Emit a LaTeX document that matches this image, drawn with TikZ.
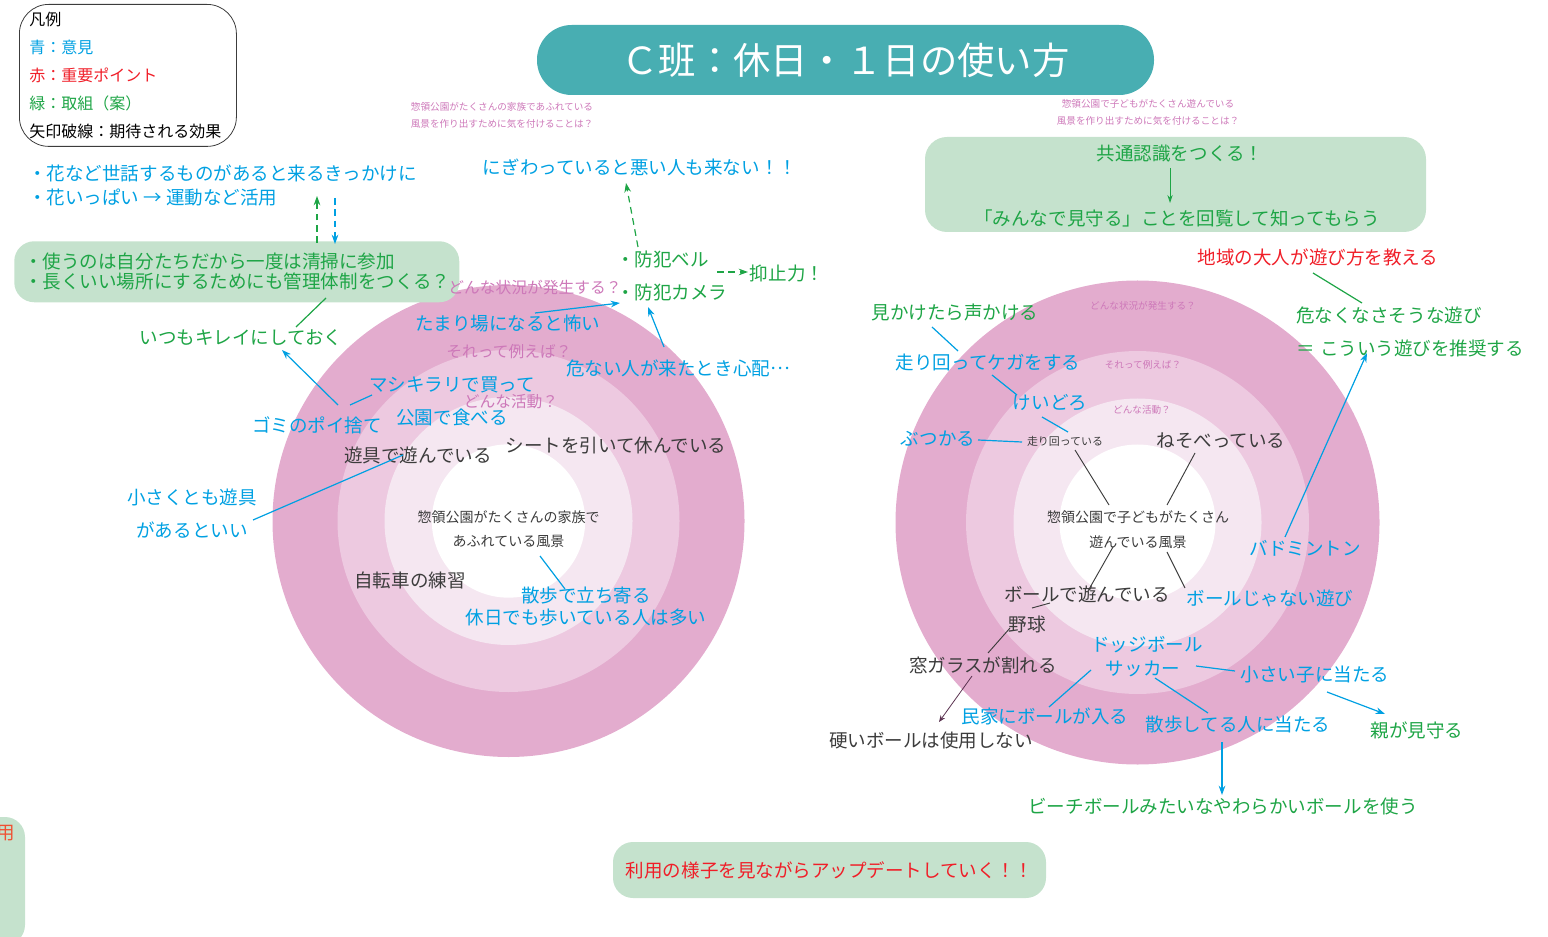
\documentclass[tikz,border=0pt]{standalone}
\usepackage{fontspec}
\setmainfont{Noto Sans CJK JP}
\usetikzlibrary{arrows.meta,calc}

\definecolor{opinion}{RGB}{0,160,226}
\definecolor{action}{RGB}{30,165,70}
\definecolor{point}{RGB}{240,30,40}
\definecolor{ask}{RGB}{205,120,185}
\definecolor{scene}{RGB}{60,60,60}
\definecolor{boxgreen}{RGB}{197,226,205}
\definecolor{titleteal}{RGB}{72,174,178}
\definecolor{ringA}{RGB}{227,172,206}
\definecolor{ringB}{RGB}{237,201,224}
\definecolor{ringC}{RGB}{245,231,241}
\definecolor{edgered}{RGB}{240,80,50}
\definecolor{effectline}{RGB}{90,50,80}

\tikzset{%
  word/.style={inner sep=0pt, font=\fontsize{13.9}{16}\selectfont},
  opinion word/.style={word, text=opinion},
  action word/.style={word, text=action},
  point word/.style={word, text=point},
  scene word/.style={word, text=scene},
  ask word/.style={inner sep=0pt, text=ask, font=\fontsize{11.8}{14}\selectfont},
  ask small/.style={inner sep=0pt, text=ask, font=\fontsize{7.2}{9}\selectfont},
  core/.style={inner sep=0pt, text=scene, align=center},
  greenbox/.style={fill=boxgreen, rounded corners=15pt, inner sep=0pt},
  opline/.style={draw=opinion, line width=0.9pt},
  acline/.style={draw=action, line width=0.9pt},
  scline/.style={draw=scene, line width=0.7pt},
  headed/.style={-{Stealth[length=7pt,width=5pt]}},
  effect/.style={line width=0.9pt, dash pattern=on 5pt off 3.5pt, headed},
}

\begin{document}
\begin{tikzpicture}[x=0.75pt, y=-0.75pt]
\useasboundingbox (0,0) rectangle (1548,937);

\foreach \r/\c in {177pt/ringA,128.25pt/ringB,93pt/ringC,57.5pt/white}
  \fill[\c] (508.5,521) circle[radius=\r];
\foreach \r/\c in {181.5pt/ringA,128.6pt/ringB,93pt/ringC,58.5pt/white}
  \fill[\c] (1137.5,522.5) circle[radius=\r];

\node[draw=scene, line width=0.6pt, rounded corners=22pt, anchor=north west, align=left,
  text width=147.75pt, minimum height=106.5pt, inner xsep=7.5pt, inner ysep=4.5pt,
  text=black, font=\fontsize{12}{21}\selectfont] (legend) at (19,4)
  {凡例\\ \textcolor{opinion}{青：意見}\\ \textcolor{point}{赤：重要ポイント}\\
   \textcolor{action}{緑：取組（案）}\\ 矢印破線：期待される効果};

\node[fill=titleteal, rounded corners=26pt, minimum width=462.75pt, minimum height=52.5pt,
  text=white, font=\fontsize{28}{32}\selectfont] (title) at (845.5,60) {Ｃ班：休日・１日の使い方};

\node[ask small, align=center, font=\fontsize{7.2}{12.75}\selectfont] (leftq) at (502,115.5)
  {惣領公園がたくさんの家族であふれている\\風景を作り出すために気を付けることは？};
\node[ask small, align=center, font=\fontsize{7.2}{12.75}\selectfont] (rightq) at (1148,112.5)
  {惣領公園で子どもがたくさん遊んでいる\\風景を作り出すために気を付けることは？};

\node[greenbox, anchor=north west, text width=318.75pt, minimum height=45.75pt, inner xsep=7.5pt,
  align=left, text=action, font=\fontsize{13.9}{15}\selectfont] (rule) at (14,241)
  {・使うのは自分たちだから一度は清掃に参加\\・長くいい場所にするためにも管理体制をつくる？};
\node[greenbox, rounded corners=16.5pt, minimum width=375.75pt, minimum height=71.25pt] (kyobox) at (1175.5,184.5) {};
\node[greenbox, point word, minimum width=324.75pt, minimum height=42pt] (update) at (829.5,870)
  {利用の様子を見ながらアップデートしていく！！};
\node[greenbox, minimum width=48.75pt, minimum height=96pt] (edgebox) at (-7.5,881) {};
\node[word, text=edgered, anchor=east] (edgeword) at (15,833) {用};

\node[opinion word, anchor=west, align=left, font=\fontsize{13.9}{18}\selectfont] (hana) at (28,185)
  {・花など世話するものがあると来るきっかけに\\・花いっぱい → 運動など活用};
\node[action word] (kirei) at (241,338) {いつもキレイにしておく};
\node[opinion word] (gomi) at (317,425) {ゴミのポイ捨て};
\node[opinion word] (mashi) at (452,385) {マシキラリで買って};
\node[opinion word] (taberu) at (452,417) {公園で食べる};
\node[scene word] (yugu) at (418,455) {遊具で遊んでいる};
\node[scene word] (sheet) at (616,446) {シートを引いて休んでいる};
\node[opinion word, align=center, font=\fontsize{13.9}{24.75}\selectfont] (sasaku) at (192,513.5)
  {小さくとも遊具\\があるといい};
\node[core, font=\fontsize{10.5}{18}\selectfont] (lcore) at (508.5,529)
  {惣領公園がたくさんの家族で\\あふれている風景};
\node[opinion word, align=center, font=\fontsize{13.9}{16.5}\selectfont] (sanpo) at (586,607)
  {散歩で立ち寄る\\休日でも歩いている人は多い};
\node[scene word] (jitensha) at (410,580) {自転車の練習};
\node[opinion word] (tamari) at (508,323) {たまり場になると怖い};
\node[ask word] (lwhat) at (535,288) {どんな状況が発生する？};
\node[ask word] (lex) at (509,352) {それって例えば？};
\node[ask word] (lact) at (511,402) {どんな活動？};
\node[opinion word] (abunai) at (678,368) {危ない人が来たとき心配\raisebox{0.32em}{…}};
\node[action word, anchor=west, align=left, font=\fontsize{13.9}{24.75}\selectfont] (bouhan) at (616,275.5)
  {・防犯ベル\\・防犯カメラ};
\node[opinion word] (nigiwai) at (640,167) {にぎわっていると悪い人も来ない！！};
\node[action word] (yokushi) at (787,273) {抑止力！};

\node[action word] (kyo1) at (1180,154) {共通認識をつくる！};
\node[action word] (kyo2) at (1177,218) {「みんなで見守る」ことを回覧して知ってもらう};
\node[point word] (chiiki) at (1318,257) {地域の大人が遊び方を教える};
\node[action word, anchor=west, align=left, font=\fontsize{13.9}{24.75}\selectfont] (safeplay) at (1296,331.5)
  {危なくなさそうな遊び\\＝\hspace{4pt}こういう遊びを推奨する};
\node[action word] (mikake) at (955,312) {見かけたら声かける};
\node[opinion word] (hashiri) at (988,362) {走り回ってケガをする};
\node[opinion word] (keidoro) at (1050,403) {けいどろ};
\node[opinion word] (butsu) at (938,439) {ぶつかる};
\node[scene word, font=\fontsize{8.2}{10}\selectfont] (hashitte) at (1065,441) {走り回っている};
\node[scene word] (nesobe) at (1221,441) {ねそべっている};
\node[ask small] (rwhat) at (1143,306) {どんな状況が発生する？};
\node[ask small] (rex) at (1143,365) {それって例えば？};
\node[ask small] (ract) at (1142,410) {どんな活動？};
\node[core, font=\fontsize{10.5}{18.75}\selectfont] (rcore) at (1138,529.5)
  {惣領公園で子どもがたくさん\\遊んでいる風景};
\node[scene word] (ball) at (1087,594) {ボールで遊んでいる};
\node[opinion word] (nonball) at (1270,598) {ボールじゃない遊び};
\node[opinion word] (badm) at (1305,548) {バドミントン};
\node[scene word] (yakyu) at (1027,624) {野球};
\node[scene word] (mado) at (983,665) {窓ガラスが割れる};
\node[scene word] (katai) at (931,740) {硬いボールは使用しない};
\node[opinion word] (dodge) at (1147,645) {ドッジボール};
\node[opinion word] (soccer) at (1143,669) {サッカー};
\node[opinion word] (minka) at (1045,716) {民家にボールが入る};
\node[opinion word] (chiisai) at (1315,674) {小さい子に当たる};
\node[opinion word] (sanpoR) at (1238,725) {散歩してる人に当たる};
\node[action word] (beach) at (1223,806) {ビーチボールみたいなやわらかいボールを使う};
\node[action word] (oya) at (1417,730) {親が見守る};

\draw[acline] ($(rule.north west)+(312,57)$) -- ($(kirei)+(55,-11)$);
\draw[opline, headed] ($(gomi)+(21,-20)$) -- ($(kirei)+(41,12)$);
\draw[opline] ($(mashi)+(-80,10)$) -- ($(gomi)+(33,-20)$);
\draw[opline] ($(sasaku)+(61,6.5)$) -- ($(yugu)+(-15,0)$);
\draw[opline] ($(lcore)+(31.5,27)$) -- ($(sanpo)+(-21,-18)$);
\draw[opline, headed] ($(tamari)+(27,-10)$) -- ($(bouhan.west)+(4,27.5)$);
\draw[opline, headed] ($(abunai)+(-14,-21)$) -- ($(bouhan.west)+(32,31.5)$);
\draw[effect, draw=action] ($(bouhan.west)+(22,-28.5)$) -- ($(nigiwai)+(-14,16)$);
\draw[effect, draw=action] ($(bouhan.west)+(101,-3.5)$) -- ($(yokushi)+(-39,-1)$);
\draw[effect, draw=action] ($(rule.north west)+(303,2)$) -- ($(hana.west)+(289,11)$);
\draw[effect, draw=opinion] ($(hana.west)+(307,13)$) -- ($(rule.north west)+(321,3)$);

\draw[draw=action, line width=0.7pt, -{Stealth[length=6pt,width=4pt]}] ($(kyo1)+(-10,14)$) -- ($(kyo2)+(-7,-15)$);
\draw[acline] ($(chiiki)+(-5,16)$) -- ($(safeplay.west)+(66,-28.5)$);
\draw[opline, headed] ($(badm)+(-20,-11)$) -- ($(safeplay.west)+(71,21.5)$);
\draw[opline] ($(mikake)+(-23,15)$) -- ($(hashiri)+(-30,-11)$);
\draw[opline] ($(hashiri)+(4,13)$) -- ($(keidoro)+(-33,-8)$);
\draw[opline] ($(keidoro)+(-8,14)$) -- ($(hashitte)+(3,-9)$);
\draw[opline] ($(butsu)+(40,1)$) -- ($(hashitte)+(-43,1)$);
\draw[scline] ($(hashitte)+(10,9)$) -- ($(rcore)+(-29,-24.5)$);
\draw[scline] ($(nesobe)+(-26,12)$) -- ($(rcore)+(29,-24.5)$);
\draw[scline] ($(rcore)+(-25,17.5)$) -- ($(ball)+(1,-3)$);
\draw[scline] ($(rcore)+(29,22.5)$) -- ($(nonball)+(-85,-10)$);
\draw[scline] ($(yakyu)+(5,-16)$) -- ($(ball)+(-37,9)$);
\draw[scline] ($(yakyu)+(-17,4)$) -- ($(mado)+(5,-12)$);
\draw[draw=effectline, line width=0.6pt, -{Stealth[length=5pt,width=4pt]}] ($(mado)+(-11,11)$) -- ($(katai)+(8,-18)$);
\draw[opline] ($(soccer)+(-52,1)$) -- ($(minka)+(4,-9)$);
\draw[opline] ($(soccer)+(53,-3)$) -- ($(chiisai)+(-80,-3)$);
\draw[opline] ($(soccer)+(12,9)$) -- ($(sanpoR)+(-30,-12)$);
\draw[opline, headed] ($(sanpoR)+(-16,17)$) -- ($(beach)+(-1,-11)$);
\draw[opline, headed] ($(chiisai)+(12,18)$) -- ($(oya)+(-32,-16)$);
\end{tikzpicture}
\end{document}
